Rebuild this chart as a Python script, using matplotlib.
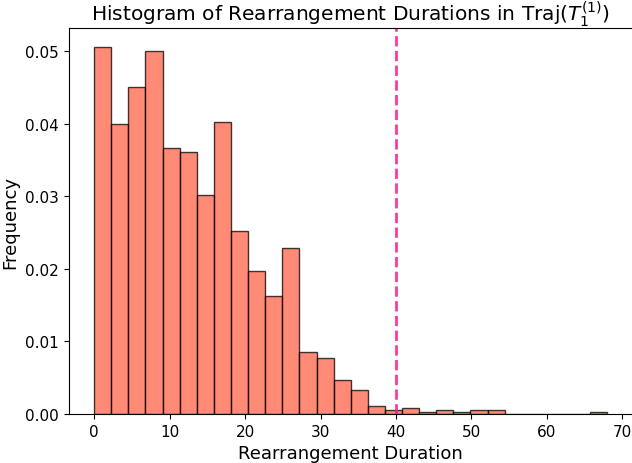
import numpy as np
import matplotlib
matplotlib.use("Agg")
from matplotlib import pyplot as plt

# density of each bin, 30 bins over 0..68
bin_edges = np.linspace(0, 68, 31)
density = [0.0506, 0.0399, 0.0451, 0.0500, 0.0367, 0.0361, 0.0301, 0.0402,
           0.0252, 0.0197, 0.0162, 0.0229, 0.0085, 0.0077, 0.0047, 0.0033,
           0.0011, 0.00055, 0.00083, 0.00028, 0.00055, 0.00028, 0.00055, 0.00055,
           0.0, 0.0, 0.0, 0.0, 0.0, 0.00028]
threshold = 40

fig = plt.figure(figsize=(6.32, 4.64), dpi=100)
ax = fig.add_axes([68.5 / 632, 49 / 464, 564.5 / 632, 385.7 / 464])

centers = (bin_edges[:-1] + bin_edges[1:]) / 2
ax.hist(centers, bins=bin_edges, weights=density, color='tomato', alpha=0.75,
        edgecolor='black')
ax.axvline(threshold, color='deeppink', linestyle='--', linewidth=2, alpha=0.85)

ax.set_title(r'Histogram of Rearrangement Durations in Traj($T_1^{(1)}$)', fontsize=14.5)
ax.set_xlabel('Rearrangement Duration', fontsize=13)
ax.set_ylabel('Frequency', fontsize=13)
ax.tick_params(labelsize=11)
ax.set_xticks([0, 10, 20, 30, 40, 50, 60, 70])

fig.savefig("out.png", dpi=100)
